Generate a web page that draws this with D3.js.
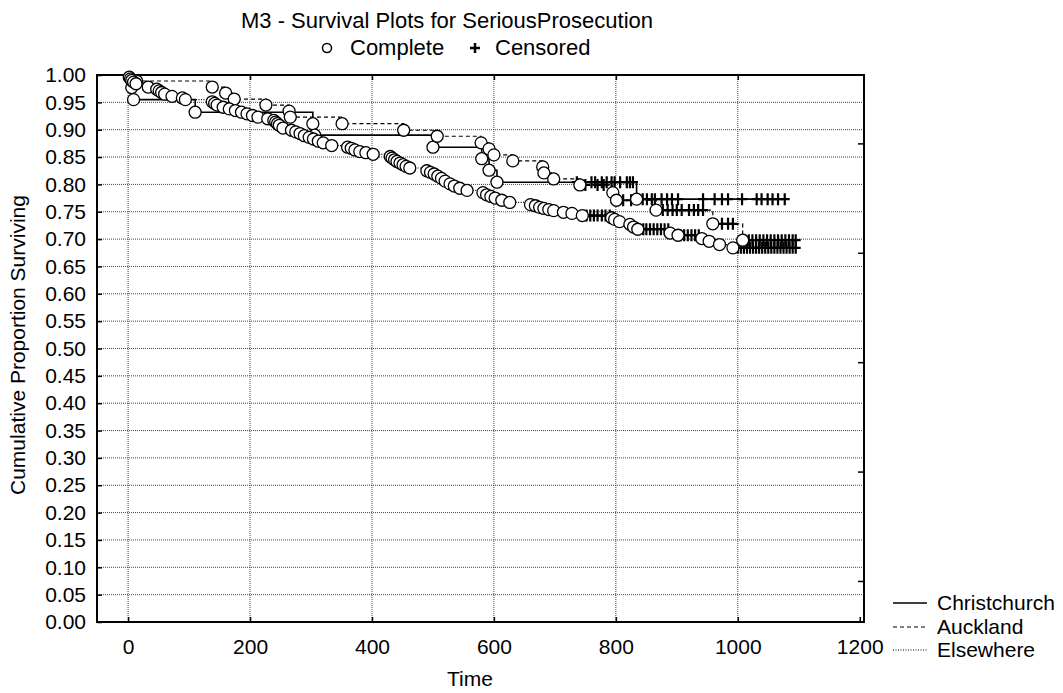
<!DOCTYPE html>
<html><head><meta charset="utf-8">
<script src="https://cdn.jsdelivr.net/npm/d3@7"></script>
<style>body{margin:0;background:#fff} text{font-family:"Liberation Sans",Arial,sans-serif;fill:#000}</style>
</head><body><svg id="c" width="1063" height="693"></svg>
<script>
const categories = ["Christchurch", "Auckland", "Elsewhere"];
const xTicks = [0, 200, 400, 600, 800, 1000, 1200];
const yTicks = d3.range(0, 21).map(i => +(i * 0.05).toFixed(2));

// complete events [time, survival after event]
const christchurchEvents = [[6,0.977],[9,0.955],[110,0.932],[303,0.911],[306,0.890],[500,0.868],[580,0.847],[592,0.826],[605,0.804],[834,0.773]];
const christchurchCensored = [736,760,766,777,785,793,798,807,818,823,828,836,844,851,859,864,875,884,892,902,943,962,974,984,1007,1031,1039,1049,1057,1066,1077];

const aucklandEvents = [[14,0.989],[138,0.978],[160,0.967],[174,0.956],[226,0.945],[264,0.934],[266,0.923],[351,0.911],[452,0.899],[507,0.888],[579,0.876],[592,0.865],[600,0.854],[631,0.843],[680,0.832],[682,0.821],[698,0.810],[741,0.799],[795,0.785],[801,0.771],[866,0.753],[959,0.728],[1008,0.698]];
const aucklandCensored = [750,770,780,812,825,877,885,893,900,908,920,928,935,943,974,984,992,1012,1018,1024,1030,1036,1042,1048,1054,1060,1066,1072,1078,1084,1090,1095];

const elsewhereEvents = [[2,0.996],[4,0.993],[6,0.990],[9,0.987],[13,0.984],
[33,0.978],[47,0.974],[51,0.971],[55,0.968],[60,0.965],[72,0.961],[89,0.958],[94,0.955],
[138,0.951],[142,0.948],[146,0.945],[156,0.941],[166,0.938],[176,0.935],[186,0.932],[195,0.929],[204,0.926],[213,0.923],
[229,0.920],[239,0.917],[242,0.914],[245,0.911],[248,0.908],[254,0.903],
[268,0.899],[275,0.896],[282,0.893],[289,0.889],[297,0.886],[304,0.883],[312,0.879],[320,0.876],[334,0.871],
[360,0.868],[366,0.866],[372,0.863],[380,0.860],[390,0.858],[402,0.855],
[430,0.851],[433,0.848],[437,0.845],[441,0.842],[446,0.839],[451,0.836],[456,0.833],[462,0.830],
[490,0.825],[496,0.822],[502,0.819],[508,0.815],[514,0.811],[520,0.806],[528,0.801],[535,0.797],[544,0.793],[556,0.789],
[582,0.785],[588,0.781],[595,0.778],[602,0.775],[613,0.771],[626,0.767],
[660,0.763],[668,0.761],[675,0.758],[682,0.756],[690,0.754],[698,0.752],[714,0.749],[728,0.747],[745,0.743],
[793,0.739],[798,0.736],[806,0.732],
[823,0.727],[829,0.722],[836,0.718],
[889,0.711],[902,0.707],
[941,0.701],[953,0.696],[970,0.690],[992,0.684]];
const elsewhereCensored = [752,758,764,770,777,783,790,845,850,856,862,868,874,880,886,906,912,918,924,930,936,1000,1005,1010,1015,1020,1025,1030,1035,1040,1045,1050,1055,1060,1065,1070,1075,1080,1085,1090,1095];

const seriesEvents = [christchurchEvents, aucklandEvents, elsewhereEvents];
const seriesCensored = [christchurchCensored, aucklandCensored, elsewhereCensored];
const dashes = [null, "4,3", "1,1.5"];
const widths = [1.6, 1.2, 1.2];
const FS = 21;

const svg = d3.select("#c");
const L = 97, R = 864, T = 75, B = 622;
const x = d3.scaleLinear().domain([-51, 1207]).range([L, R]);
const y = d3.scaleLinear().domain([0, 1]).range([B, T]);

// grid
const g = svg.append("g");
g.selectAll(".gy").data(yTicks.filter(v => v > 0 && v < 1)).join("line")
  .attr("x1", L).attr("x2", R).attr("y1", d => y(d)).attr("y2", d => y(d))
  .attr("stroke", "#444").attr("stroke-width", 1).attr("stroke-dasharray", "1,1");
g.selectAll(".gx").data(xTicks.filter(v => v < 1200)).join("line")
  .attr("x1", d => x(d)).attr("x2", d => x(d)).attr("y1", T).attr("y2", B)
  .attr("stroke", "#444").attr("stroke-width", 1).attr("stroke-dasharray", "1,1");

// axes
const yAxis = d3.axisLeft(y).tickValues(yTicks).tickFormat(d3.format(".2f")).tickSizeInner(-5).tickSizeOuter(0).tickPadding(11);
const ax = svg.append("g").attr("transform", `translate(${L},0)`).call(yAxis);
ax.select(".domain").remove();
ax.selectAll("text").attr("font-size", FS).attr("font-family", '"Liberation Sans",Arial,sans-serif');
const xAxis = d3.axisBottom(x).tickValues(xTicks).tickFormat(d3.format("d")).tickSizeInner(-5).tickSizeOuter(0).tickPadding(17);
const bx = svg.append("g").attr("transform", `translate(0,${B})`).call(xAxis);
bx.select(".domain").remove();
bx.selectAll("text").attr("font-size", FS).attr("font-family", '"Liberation Sans",Arial,sans-serif');
const tx = d3.axisTop(x).tickValues(xTicks.filter(v => v < 1200)).tickSizeInner(-5).tickSizeOuter(0).tickFormat("");
const tg = svg.append("g").attr("transform", `translate(0,${T})`).call(tx);
tg.select(".domain").remove();
const ry = d3.axisRight(y).tickValues([0.875, 0.675, 0.475, 0.275, 0.075]).tickSizeInner(-6).tickSizeOuter(0).tickFormat("");
const rg = svg.append("g").attr("transform", `translate(${R},0)`).call(ry);
rg.select(".domain").remove();
svg.selectAll(".tick line").attr("stroke", "#000").attr("stroke-width", 1.5);

svg.append("rect").attr("x", L).attr("y", T).attr("width", R - L).attr("height", B - T)
  .attr("fill", "none").attr("stroke", "#000").attr("stroke-width", 2);

function levelAt(events, t) { let s = 1; for (const [et, v] of events) if (et <= t) s = v; return s; }

const line = d3.line().x(d => x(d[0])).y(d => y(d[1]));
seriesEvents.forEach((ev, i) => {
  const pts = [[0, 1]]; let s = 1;
  ev.forEach(([t, v]) => { pts.push([t, s]); pts.push([t, v]); s = v; });
  const lastT = d3.max(seriesCensored[i]);
  pts.push([lastT, s]);
  svg.append("path").attr("d", line(pts)).attr("fill", "none").attr("stroke", "#000")
    .attr("stroke-width", widths[i]).attr("stroke-dasharray", dashes[i]);
});

// censored markers
seriesCensored.forEach((cs, i) => {
  svg.append("g").selectAll("path").data(cs).join("path")
    .attr("d", t => { const cx = x(t), cy = y(levelAt(seriesEvents[i], t)); return `M${cx-5},${cy}H${cx+5}M${cx},${cy-6}V${cy+6}`; })
    .attr("stroke", "#000").attr("stroke-width", 2.2).attr("fill", "none");
});
// complete markers
seriesEvents.forEach((ev, i) => {
  svg.append("g").selectAll("circle").data(ev).join("circle")
    .attr("cx", d => x(d[0])).attr("cy", d => y(d[1])).attr("r", 6)
    .attr("fill", "#fff").attr("stroke", "#000").attr("stroke-width", 1.3);
});

// titles
svg.append("text").attr("x", 447).attr("y", 28).attr("text-anchor", "middle").attr("font-size", 22)
  .text("M3 - Survival Plots for SeriousProsecution");
svg.append("circle").attr("cx", 327).attr("cy", 48).attr("r", 4.5).attr("fill", "#fff").attr("stroke", "#000").attr("stroke-width", 1.5);
svg.append("text").attr("x", 350).attr("y", 55).attr("font-size", 22).text("Complete");
svg.append("path").attr("d", "M470,48H480M475,43V53").attr("stroke", "#000").attr("stroke-width", 2.5);
svg.append("text").attr("x", 495).attr("y", 55).attr("font-size", 22).text("Censored");

svg.append("text").attr("x", 470).attr("y", 686).attr("text-anchor", "middle").attr("font-size", FS).text("Time");
svg.append("text").attr("transform", "translate(25,345) rotate(-90)").attr("text-anchor", "middle").attr("font-size", FS)
  .text("Cumulative Proportion Surviving");

// legend
const legY = [603, 627, 650];
categories.forEach((c, i) => {
  svg.append("line").attr("x1", 893).attr("x2", 927).attr("y1", legY[i]).attr("y2", legY[i])
    .attr("stroke", "#000").attr("stroke-width", widths[i]).attr("stroke-dasharray", dashes[i]);
  svg.append("text").attr("x", 937).attr("y", legY[i] + 7).attr("font-size", FS).text(c);
});
</script></body></html>
